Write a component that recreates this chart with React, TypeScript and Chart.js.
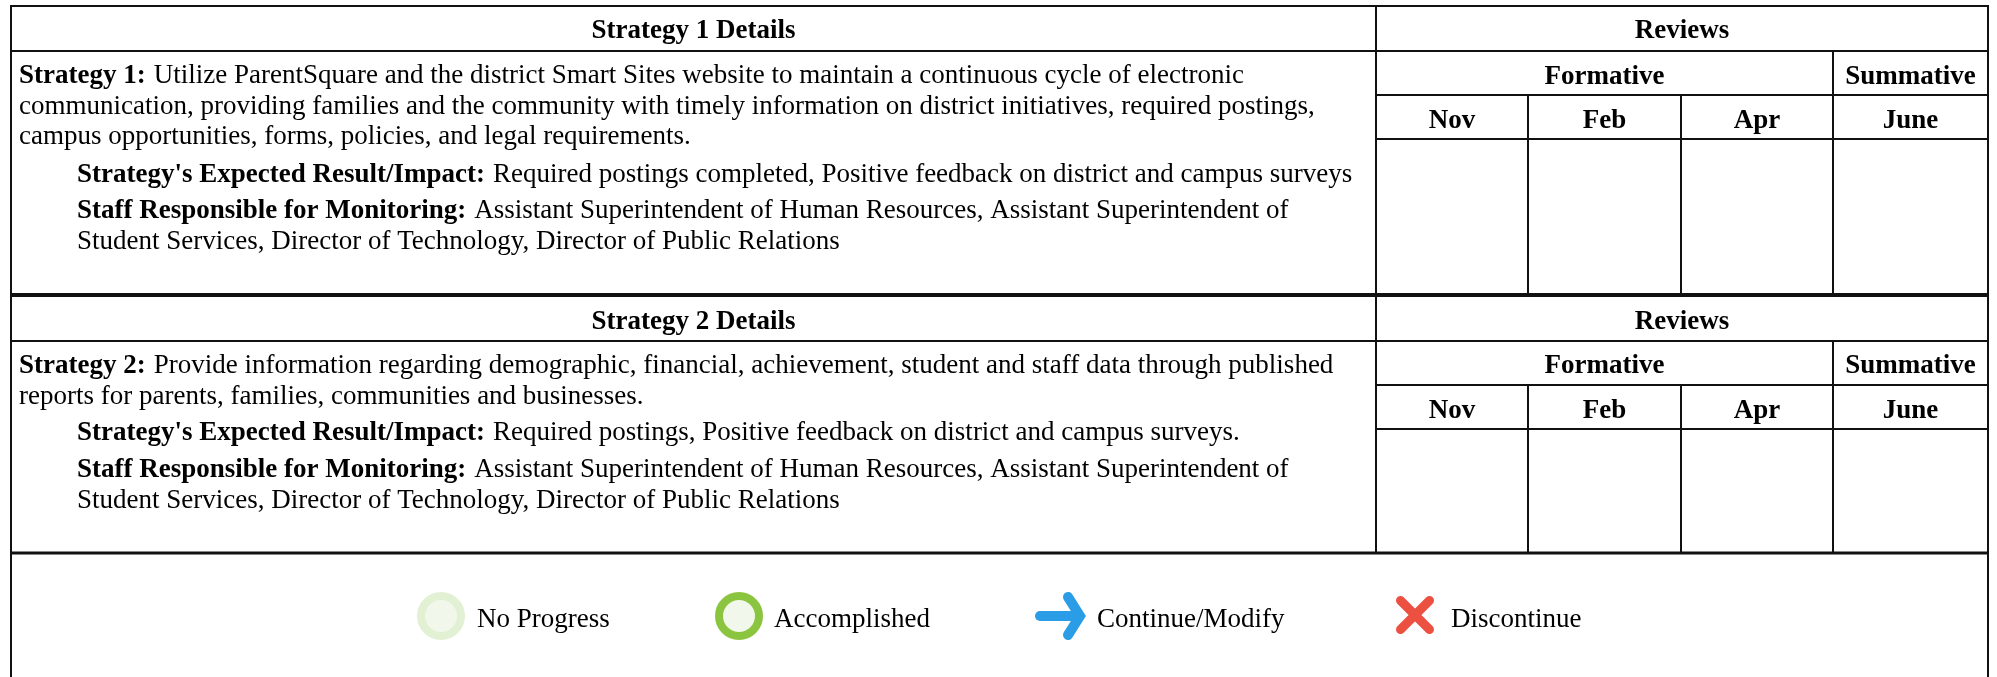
import React, { useEffect, useRef } from "react";
import { Chart, registerables } from "chart.js";

Chart.register(...registerables);

// ---- text content ----
const detailHeaders = ["Strategy 1 Details", "Strategy 2 Details"];
const reviewsHeader = "Reviews";
const formativeHeader = "Formative";
const summativeHeader = "Summative";
const months = ["Nov", "Feb", "Apr", "June"];

const strategy1Lines = [
  [["Strategy 1:", true], ["Utilize ParentSquare and the district Smart Sites website to maintain a continuous cycle of electronic", false]],
  [["communication, providing families and the community with timely information on district initiatives, required postings,", false]],
  [["campus opportunities, forms, policies, and legal requirements.", false]],
  [["Strategy's Expected Result/Impact:", true], ["Required postings completed, Positive feedback on district and campus surveys", false]],
  [["Staff Responsible for Monitoring:", true], ["Assistant Superintendent of Human Resources, Assistant Superintendent of", false]],
  [["Student Services, Director of Technology, Director of Public Relations", false]],
];
const strategy2Lines = [
  [["Strategy 2:", true], ["Provide information regarding demographic, financial, achievement, student and staff data through published", false]],
  [["reports for parents, families, communities and businesses.", false]],
  [["Strategy's Expected Result/Impact:", true], ["Required postings, Positive feedback on district and campus surveys.", false]],
  [["Staff Responsible for Monitoring:", true], ["Assistant Superintendent of Human Resources, Assistant Superintendent of", false]],
  [["Student Services, Director of Technology, Director of Public Relations", false]],
];
const legendLabels = ["No Progress", "Accomplished", "Continue/Modify", "Discontinue"];

// ---- layout (page pixels; the hidden scales map 1:1) ----
const W = 1997;
const H = 677;
const FONT = '"Liberation Serif"';
const SIZE = 27;
const RUN_GAP = 8;
const LEFT = 11;
const RIGHT = 1988;
const SPLIT = 1376;
const MONTH_X = [1376, 1528, 1681, 1833, 1988];
const BLOCKS = [
  { top: 6, header: 51, sub: 95, month: 139, bottom: 295, bottomW: 4, titleY: 38, subY: 84, monthY: 128, lines: strategy1Lines, lineY: [83, 114, 144, 182, 218, 249], indent: [0, 0, 0, 1, 1, 1] },
  { top: 295, header: 341, sub: 385, month: 429, bottom: 553, bottomW: 3, titleY: 329, subY: 373, monthY: 418, lines: strategy2Lines, lineY: [373, 404, 440, 477, 508], indent: [0, 0, 1, 1, 1] },
];
const LEGEND_Y = 616;
const LEGEND_TEXT_Y = 627;
const legendMarkerX = [441, 739, 1060, 1415];
const legendTextX = [477, 774, 1097, 1451];

function sprite(w: number, h: number, draw: (c: CanvasRenderingContext2D) => void) {
  const cv = document.createElement("canvas");
  cv.width = w;
  cv.height = h;
  const c = cv.getContext("2d")!;
  c.lineCap = "round";
  draw(c);
  return cv;
}

const tablePlugin = {
  id: "tablePlugin",
  afterDatasetsDraw(chart: any) {
    const ctx: CanvasRenderingContext2D = chart.ctx;
    const sx = chart.scales.x;
    const sy = chart.scales.y;
    const hLine = (a: number, b: number, y: number, lw = 2) => {
      ctx.lineWidth = lw;
      ctx.beginPath();
      ctx.moveTo(sx.getPixelForValue(a), sy.getPixelForValue(y));
      ctx.lineTo(sx.getPixelForValue(b), sy.getPixelForValue(y));
      ctx.stroke();
    };
    const vLine = (x: number, a: number, b: number, lw = 2) => {
      ctx.lineWidth = lw;
      ctx.beginPath();
      ctx.moveTo(sx.getPixelForValue(x), sy.getPixelForValue(a));
      ctx.lineTo(sx.getPixelForValue(x), sy.getPixelForValue(b));
      ctx.stroke();
    };
    const text = (s: string, x: number, y: number, bold: boolean, align: CanvasTextAlign = "left") => {
      ctx.font = `${bold ? "bold " : ""}${SIZE}px ${FONT}`;
      ctx.textAlign = align;
      ctx.textBaseline = "alphabetic";
      ctx.fillText(s, sx.getPixelForValue(x), sy.getPixelForValue(y));
      return ctx.measureText(s).width;
    };

    ctx.save();
    ctx.strokeStyle = "#111";
    ctx.fillStyle = "#000";
    hLine(LEFT - 1, RIGHT + 1, BLOCKS[0].top);
    vLine(LEFT, BLOCKS[0].top, H);
    vLine(RIGHT, BLOCKS[0].top, H);
    BLOCKS.forEach((b, i) => {
      hLine(LEFT, RIGHT, b.header);
      hLine(SPLIT, RIGHT, b.sub);
      hLine(SPLIT, RIGHT, b.month);
      hLine(LEFT, RIGHT, b.bottom, b.bottomW);
      vLine(SPLIT, b.top, b.bottom);
      vLine(MONTH_X[3], b.header, b.bottom);
      vLine(MONTH_X[1], b.sub, b.bottom);
      vLine(MONTH_X[2], b.sub, b.bottom);

      text(detailHeaders[i], (LEFT + SPLIT) / 2, b.titleY, true, "center");
      text(reviewsHeader, (SPLIT + RIGHT) / 2, b.titleY, true, "center");
      text(formativeHeader, (SPLIT + MONTH_X[3]) / 2, b.subY, true, "center");
      text(summativeHeader, (MONTH_X[3] + RIGHT) / 2, b.subY, true, "center");
      months.forEach((m, k) => {
        text(m, (MONTH_X[k] + MONTH_X[k + 1]) / 2, b.monthY, true, "center");
      });
      b.lines.forEach((runs: any, k: number) => {
        let x = b.indent[k] ? 77 : 19;
        runs.forEach(([s, bold]: [string, boolean]) => {
          x += text(s, x, b.lineY[k], bold) + RUN_GAP;
        });
      });
    });
    legendLabels.forEach((l, k) => text(l, legendTextX[k], LEGEND_TEXT_Y, false));
    ctx.restore();
  },
};

export default function App() {
  const ref = useRef<HTMLCanvasElement>(null);
  useEffect(() => {
    const arrow = sprite(60, 60, (c) => {
      c.strokeStyle = "#2B9CE6";
      c.lineWidth = 10;
      c.lineJoin = "miter";
      c.miterLimit = 10;
      c.beginPath();
      c.moveTo(10, 30);
      c.lineTo(48, 30);
      c.stroke();
      c.beginPath();
      c.moveTo(38, 11);
      c.lineTo(50, 30);
      c.lineTo(38, 49);
      c.stroke();
    });
    const cross = sprite(60, 60, (c) => {
      c.strokeStyle = "#EC5040";
      c.lineWidth = 9;
      c.beginPath();
      c.moveTo(15.5, 14.5);
      c.lineTo(44.5, 43.5);
      c.moveTo(44.5, 14.5);
      c.lineTo(15.5, 43.5);
      c.stroke();
    });
    const chart = new Chart(ref.current!, {
      type: "scatter",
      data: {
        datasets: [
          {
            label: legendLabels[0],
            data: [{ x: legendMarkerX[0], y: LEGEND_Y }],
            pointStyle: "circle",
            pointRadius: 20,
            pointBorderWidth: 8,
            pointBackgroundColor: "#F1F7EA",
            pointBorderColor: "#E2F0D4",
          },
          {
            label: legendLabels[1],
            data: [{ x: legendMarkerX[1], y: LEGEND_Y }],
            pointStyle: "circle",
            pointRadius: 20,
            pointBorderWidth: 8,
            pointBackgroundColor: "#F1F7EA",
            pointBorderColor: "#8BC53F",
          },
          {
            label: legendLabels[2],
            data: [{ x: legendMarkerX[2], y: LEGEND_Y }],
            pointStyle: arrow,
          },
          {
            label: legendLabels[3],
            data: [{ x: legendMarkerX[3], y: LEGEND_Y }],
            pointStyle: cross,
          },
        ],
      },
      options: {
        animation: false,
        responsive: false,
        devicePixelRatio: 1,
        layout: { padding: 0, autoPadding: false },
        events: [],
        plugins: { legend: { display: false }, tooltip: { enabled: false }, title: { display: false } },
        scales: {
          x: { type: "linear", display: false, min: 0, max: W },
          y: { type: "linear", display: false, min: 0, max: H, reverse: true },
        },
      },
      plugins: [tablePlugin],
    });
    return () => chart.destroy();
  }, []);
  return (
    <div style={{ position: "fixed", left: 0, top: 0, width: W, height: H, background: "#fff" }}>
      <canvas ref={ref} width={W} height={H} style={{ display: "block" }} />
    </div>
  );
}
